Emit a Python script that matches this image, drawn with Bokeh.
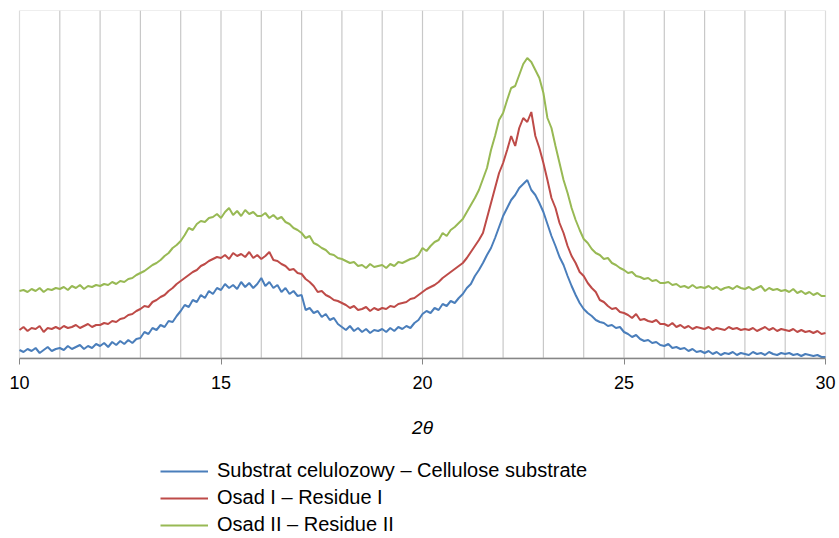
from bokeh.plotting import figure
from bokeh.models import FixedTicker, Legend, LegendItem, Range1d, BoxAnnotation
from bokeh.embed import file_html
from bokeh.resources import INLINE

# 2-theta from 10 to 30 in steps of 0.1
two_theta = [round(10 + i * 0.1, 1) for i in range(201)]

substrat = [
    8, 6, 9, 7, 10, 5, 8, 11, 7, 9,
    10, 8, 12, 9, 11, 13, 9, 12, 10, 14,
    12, 15, 11, 16, 13, 17, 14, 18, 15, 19,
    20, 26, 24, 30, 28, 33, 31, 37, 36, 42,
    47, 53, 51, 58, 56, 63, 60, 67, 64, 70,
    68, 74, 70, 73, 69, 76, 71, 75, 70, 74,
    80, 72, 76, 70, 73, 66, 70, 64, 67, 62,
    63, 48, 50, 45, 47, 41, 44, 38, 40, 34,
    31, 28, 32, 27, 30, 26, 29, 25, 28, 27,
    29, 26, 30, 27, 31, 29, 32, 30, 35, 38,
    44, 47, 45, 50, 48, 54, 52, 57, 55, 60,
    64, 70, 74, 82, 88, 95, 103, 110, 120, 131,
    142, 150, 158, 163, 170, 174, 178, 168, 163, 155,
    146, 134, 122, 112, 101, 93, 82, 72, 63, 55,
    49, 45, 42, 38, 36, 35, 32, 33, 30, 31,
    26, 24, 21, 23, 19, 17, 18, 15, 16, 13,
    12, 14, 10, 11, 9, 10, 7, 9, 6, 7,
    5, 7, 4, 6, 3, 5, 4, 6, 3, 5,
    4, 3, 6, 4, 5, 3, 6, 4, 3, 5,
    4, 5, 3, 4, 2, 4, 3, 2, 3, 1,
    1,
]

osad1 = [
    28, 31, 27, 30, 29, 32, 26, 30, 29, 31,
    29, 32, 30, 31, 33, 30, 32, 34, 31, 33,
    33, 35, 34, 37, 36, 39, 40, 43, 44, 47,
    49, 52, 51, 56, 58, 61, 63, 67, 70, 74,
    77, 80, 83, 86, 88, 92, 94, 97, 99, 101,
    100, 103, 99, 105, 102, 104, 101, 106, 100, 103,
    99, 102, 106, 98, 97, 94, 92, 88, 89, 85,
    84, 79, 76, 72, 66, 67, 63, 61, 58, 57,
    55, 53, 50, 52, 48, 49, 51, 47, 50, 48,
    50, 49, 52, 51, 54, 55, 56, 59, 60, 63,
    66, 69, 71, 73, 76, 80, 83, 86, 89, 92,
    95, 100, 106, 112, 118, 125, 140, 155, 170, 185,
    195, 208, 222, 212, 230, 240, 236, 246, 222, 210,
    195, 178, 160, 150, 135, 125, 112, 102, 95, 86,
    82, 75, 70, 66, 58, 56, 52, 49, 50, 46,
    45, 43, 40, 44, 38, 39, 37, 36, 38, 34,
    34, 32, 35, 31, 33, 30, 32, 29, 31, 30,
    29, 31, 28, 30, 29, 28, 31, 29, 30, 28,
    29, 28, 30, 27, 29, 31, 28, 30, 27, 29,
    28, 27, 29, 26, 28, 26, 27, 25, 27, 24,
    25,
]

osad2 = [
    67, 68, 66, 69, 67, 70, 66, 69, 68, 70,
    69, 71, 68, 72, 70, 73, 69, 72, 71, 73,
    72, 74, 73, 76, 74, 77, 76, 79, 80, 83,
    85, 87, 90, 93, 95, 98, 102, 105, 110, 113,
    117, 123, 130, 128, 134, 137, 136, 140, 141, 144,
    140, 146, 150, 143, 147, 142, 148, 144, 146, 142,
    142, 145, 140, 143, 139, 141, 136, 134, 130, 128,
    125, 120, 122, 115, 113, 110, 108, 104, 103, 100,
    99, 97, 95, 96, 92, 93, 90, 94, 91, 92,
    93, 90, 94, 92, 96, 95, 97, 99, 100, 103,
    110, 107, 112, 116, 118, 125, 122, 128, 131, 135,
    139, 146, 153, 160, 168, 179, 190, 208, 222, 238,
    245, 258, 270, 272, 283, 294, 300, 296, 288, 280,
    265, 240, 230, 212, 195, 178, 165, 150, 138, 128,
    119, 115, 109, 105, 103, 99, 100, 95, 93, 90,
    88, 85, 86, 82, 81, 79, 80, 77, 78, 75,
    75, 76, 73, 74, 71, 72, 70, 73, 70, 71,
    70, 72, 69, 71, 68, 70, 71, 69, 72, 70,
    69, 71, 68, 70, 72, 67, 70, 68, 69, 67,
    68, 66, 69, 65, 67, 64, 66, 63, 65, 62,
    62,
]

series_names = [
    "Substrat celulozowy \u2013 Cellulose substrate",
    "Osad I \u2013 Residue I",
    "Osad II \u2013 Residue II",
]
series_values = [substrat, osad1, osad2]
series_colors = ["#4a7ebb", "#be4b48", "#98b954"]
x_ticks = [10, 15, 20, 25, 30]
grid_ticks = list(range(11, 30))

X_MIN, X_MAX = 10, 30
Y_TOP = 347.5
Y_BOTTOM_EXT = -180.5   # room below the plotting box for axis labels and legend

# frame spans the whole canvas width; 10..30 maps onto 806 px starting 19 px from the left
PX_PER_UNIT = 806 / (X_MAX - X_MIN)
x_start = X_MIN - 19 / PX_PER_UNIT
x_end = x_start + 839 / PX_PER_UNIT

p = figure(frame_width=839, frame_height=528, output_backend="svg", toolbar_location=None,
           x_range=Range1d(x_start, x_end), y_range=Range1d(Y_BOTTOM_EXT, Y_TOP),
           min_border_left=0, min_border_right=0, min_border_top=10, min_border_bottom=0)

FONT = "Liberation Sans"
p.outline_line_color = None
p.yaxis.visible = False
p.ygrid.visible = False
p.xgrid.visible = False

# vertical grid lines at every integer 2-theta, limited to the plotting box
p.segment(x0=grid_ticks, y0=[0] * len(grid_ticks), x1=grid_ticks, y1=[Y_TOP] * len(grid_ticks),
          line_color="#c8c8c8", line_width=1.2)

# box around the plotting area
p.add_layout(BoxAnnotation(left=X_MIN, right=X_MAX, bottom=0, top=Y_TOP, fill_alpha=0,
                           line_color="#8c8c8c", line_width=1.2, level="underlay"))

xa = p.xaxis[0]
xa.fixed_location = 0
xa.bounds = (X_MIN, X_MAX)
xa.ticker = FixedTicker(ticks=x_ticks)
xa.axis_line_color = "#868686"
xa.axis_line_width = 1.3
xa.major_tick_line_color = "#868686"
xa.major_tick_out = 6
xa.major_tick_in = 0
xa.minor_tick_line_color = None
xa.major_label_text_font = FONT
xa.major_label_text_font_size = "18px"
xa.major_label_text_color = "#000000"
xa.major_label_standoff = 12
xa.axis_label = "2\u03b8"
xa.axis_label_text_font = FONT
xa.axis_label_text_font_style = "italic"
xa.axis_label_text_font_size = "19px"
xa.axis_label_text_color = "#000000"
xa.axis_label_standoff = 24

items = []
for name, vals, col in zip(series_names, series_values, series_colors):
    r = p.line(two_theta, vals, line_color=col, line_width=2)
    items.append(LegendItem(label=name, renderers=[r]))

legend = Legend(items=items, location=(160, 2), orientation="vertical",
                label_text_font=FONT, label_text_font_size="20px",
                label_text_color="#000000", glyph_width=48, glyph_height=20,
                label_standoff=9, spacing=4, padding=0, margin=0,
                border_line_color=None, background_fill_alpha=0)
p.add_layout(legend, "center")

open("out.html", "w").write(file_html(p, INLINE))
